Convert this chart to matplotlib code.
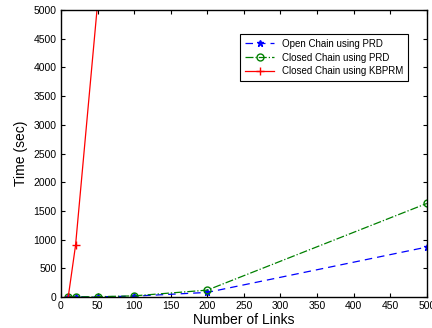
import matplotlib
matplotlib.use("Agg")
import matplotlib.pyplot as plt

links = [10, 20, 50, 100, 200, 500]
open_prd = [0.5, 1, 3, 15, 80, 870]
closed_prd = [1, 2, 5, 20, 120, 1630]
kbprm_links = [10, 20, 50]
kbprm = [0, 900, 5100]

plt.rcParams['font.family'] = ['Liberation Sans', 'DejaVu Sans']
fig = plt.figure(figsize=(4.32, 3.28), dpi=100)
ax = fig.add_axes([0.141, 0.0945, 0.847, 0.875])

ax.plot(links, open_prd, color='blue', linestyle=(0, (6, 4)), marker='*', markersize=5,
        linewidth=0.9, label='Open Chain using PRD')
ax.plot(links, closed_prd, '-.', color='green', marker='o', markersize=5,
        markerfacecolor='none', linewidth=0.9, label='Closed Chain using PRD')
ax.plot(kbprm_links, kbprm, '-', color='red', marker='+', markersize=6, linewidth=0.9,
        label='Closed Chain using KBPRM')

ax.set_xlim(0, 500)
ax.set_ylim(0, 5000)
ax.set_xticks(range(0, 501, 50))
ax.set_yticks(range(0, 5001, 500))
ax.tick_params(direction='in', top=True, right=True, labelsize=7.5, length=3, pad=3)
for s in ax.spines.values():
    s.set_linewidth(1.0)
ax.set_xlabel('Number of Links', fontsize=10, labelpad=1)
ax.set_ylabel('Time (sec)', fontsize=10, labelpad=4)

leg = ax.legend(loc='upper right', bbox_to_anchor=(0.962, 0.934), fontsize=7,
                frameon=True, fancybox=False, edgecolor='black', framealpha=1,
                handlelength=3, borderpad=0.5, labelspacing=0.4)
leg.get_frame().set_linewidth(0.8)

fig.savefig('out.png', dpi=100)
